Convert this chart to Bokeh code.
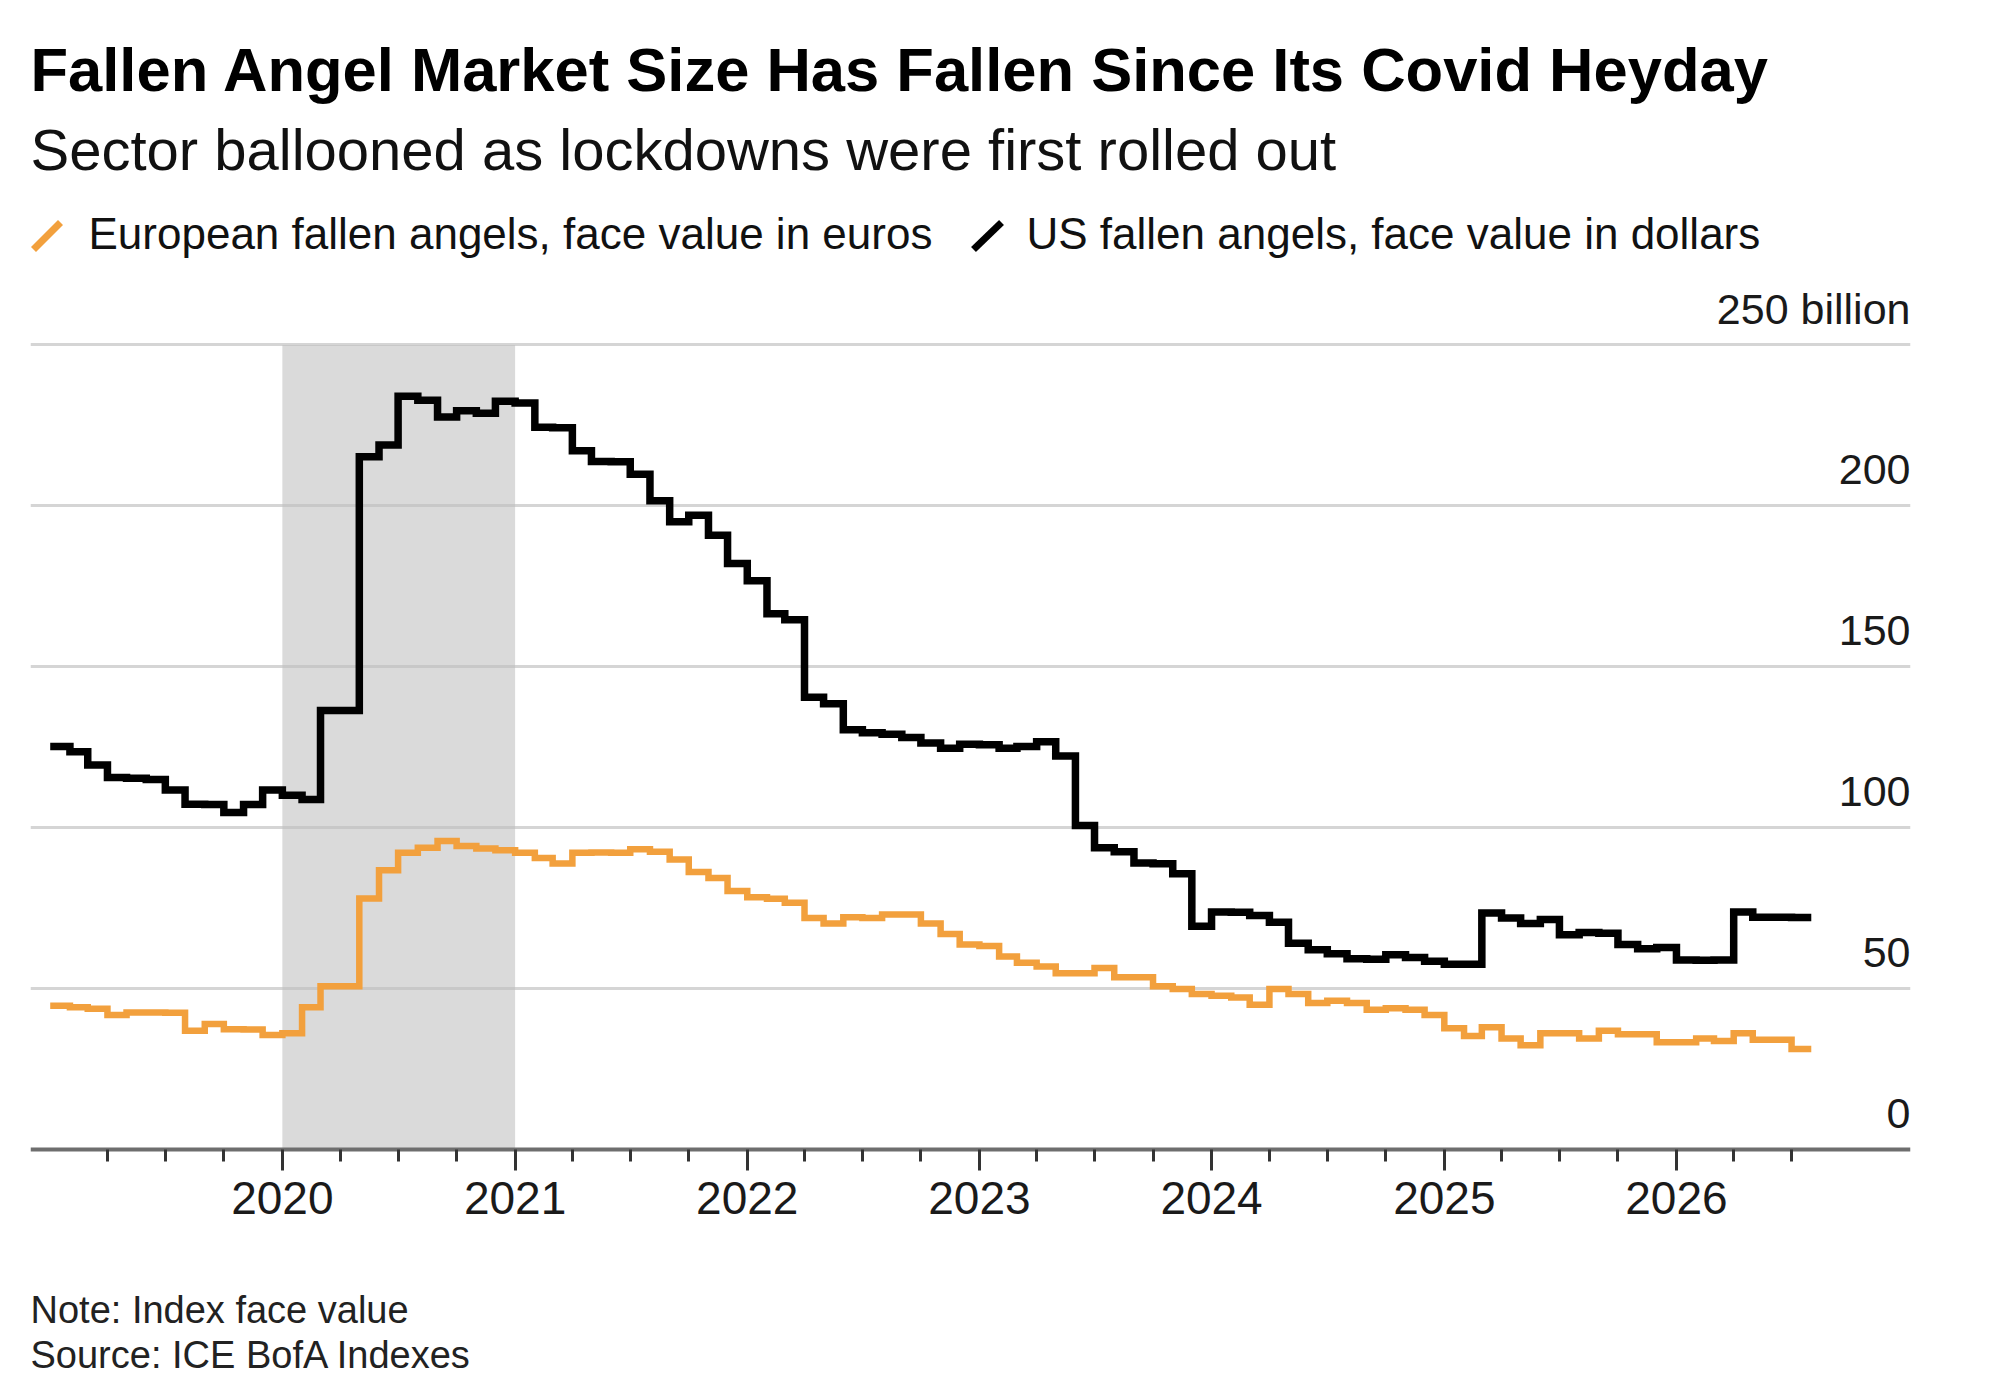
import pandas as pd
from bokeh.plotting import figure
from bokeh.models import (ColumnDataSource, FixedTicker, DatetimeTickFormatter, Grid,
                          BoxAnnotation, Range1d)
from bokeh.core.properties import value
from bokeh.embed import file_html
from bokeh.resources import INLINE

# ---------------- data ----------------
months = pd.date_range("2019-01-01", "2026-08-01", freq="MS")

us_fallen_angels = [
    125.2, 123.6, 119.5, 115.6, 115.4, 115.0, 111.7, 107.3, 107.2, 104.7, 107.2, 111.7,  # 2019
    110.1, 108.8, 136.4, 136.4, 215.3, 218.9, 234.1, 232.8, 227.6, 229.6, 228.8, 232.5,  # 2020
    232.0, 224.4, 224.3, 217.1, 213.8, 213.7, 209.8, 201.6, 195.1, 197.1, 190.9, 182.1,  # 2021
    176.7, 166.5, 164.6, 140.5, 138.5, 130.4, 129.5, 129.0, 128.0, 126.3, 124.7, 125.9,  # 2022
    125.8, 124.7, 125.2, 126.7, 122.3, 100.7, 93.8, 92.5, 89.0, 88.8, 85.7, 69.4,        # 2023
    73.8, 73.7, 72.7, 70.6, 64.1, 62.1, 60.8, 59.3, 59.1, 60.5, 59.7, 58.5,              # 2024
    57.6, 57.6, 73.5, 71.9, 70.2, 71.5, 66.7, 67.4, 67.2, 63.7, 62.4, 62.8,              # 2025
    58.9, 58.8, 58.9, 73.8, 72.2, 72.2, 72.1, 72.1,                                      # 2026
]
eu_fallen_angels = [
    44.7, 44.2, 43.7, 41.8, 42.6, 42.6, 42.5, 36.9, 39.0, 37.4, 37.3, 35.6,   # 2019
    36.1, 44.2, 50.7, 50.7, 78.0, 86.8, 92.2, 93.8, 95.9, 94.3, 93.5, 93.0,   # 2020
    92.2, 90.6, 88.9, 92.2, 92.3, 92.2, 93.3, 92.5, 90.1, 86.2, 84.4, 80.3,   # 2021
    78.4, 77.9, 76.7, 71.9, 70.2, 72.2, 71.9, 73.0, 73.0, 70.2, 67.0, 63.7,   # 2022
    63.2, 60.0, 58.0, 56.9, 54.8, 54.8, 56.4, 53.5, 53.5, 50.7, 49.9, 48.3,   # 2023
    47.8, 47.2, 45.0, 49.9, 48.3, 45.5, 46.2, 45.5, 43.4, 43.9, 43.4, 41.8,   # 2024
    37.7, 35.3, 38.0, 34.5, 32.4, 36.1, 36.1, 34.5, 36.9, 35.8, 35.8, 33.3,   # 2025
    33.3, 34.5, 33.7, 36.1, 34.1, 34.1, 31.2, 31.2,                           # 2026
]

covid_band = ["2020-01-01", "2021-01-01"]
covid_band_top = 250

y_ticks = [0, 50, 100, 150, 200, 250]
y_tick_labels = ["0", "50", "100", "150", "200", "250 billion"]
grid_ticks = [50, 100, 150, 200, 250]
year_ticks = [f"{y}-01-01" for y in range(2020, 2027)]
quarter_ticks = [d for d in pd.date_range("2019-04-01", "2026-07-01", freq="QS").strftime("%Y-%m-%d")
                 if not d.endswith("-01-01")]

x_start, x_end = "2018-12-01", "2027-01-04"
y_top = 357.05                      # value at the top edge of the canvas

title = "Fallen Angel Market Size Has Fallen Since Its Covid Heyday"
subtitle = "Sector ballooned as lockdowns were first rolled out"
legend_labels = ["European fallen angels, face value in euros",
                 "US fallen angels, face value in dollars"]
footer_lines = ["Note: Index face value", "Source: ICE BofA Indexes"]

ORANGE = "#f2a03d"
BLACK = "#000000"
FONT = "Liberation Sans"

W, H = 1984, 1384
BORDER_L, BORDER_R = 30, 74
FRAME_W = W - BORDER_L - BORDER_R      # 1880
PX_PER_UNIT = 1149 / y_top             # vertical scale (px per billion)
y_bottom = y_top - H / PX_PER_UNIT     # frame spans the whole canvas height
PAGE_X0, PAGE_Y0 = 32, 2               # page position of the frame's top-left corner


def ms(d):
    return pd.Timestamp(d).value // 10**6


X0, X1 = ms(x_start), ms(x_end)
MS_PER_PX = (X1 - X0) / FRAME_W


def page_to_data(px, py):
    return X0 + (px - PAGE_X0) * MS_PER_PX, y_top - (py - PAGE_Y0) / PX_PER_UNIT


src = ColumnDataSource(dict(date=months, us=us_fallen_angels, eu=eu_fallen_angels))

p = figure(width=W, height=H, title=None, x_axis_type="datetime", y_axis_location=None,
           x_range=Range1d(X0, X1), y_range=Range1d(y_bottom, y_top),
           output_backend="svg", toolbar_location=None,
           min_border_left=BORDER_L, min_border_right=BORDER_R, min_border_top=0,
           min_border_bottom=0, outline_line_color=None,
           background_fill_color="white", border_fill_color="white")

# remove default grids, then add our own horizontal grid (50..250 only)
p.xgrid.visible = False
p.ygrid.visible = False
g = Grid(dimension=1, ticker=FixedTicker(ticks=grid_ticks), grid_line_color="#bfbfbf",
         grid_line_alpha=0.65, grid_line_width=3)
p.add_layout(g)

band = BoxAnnotation(left=ms(covid_band[0]), right=ms(covid_band[1]), bottom=0, top=covid_band_top,
                     fill_color="#dadada", fill_alpha=1.0, line_color=None, level="image")
p.add_layout(band)

# x axis drawn at value 0 inside the frame
xa = p.xaxis[0]
xa.fixed_location = 0
xa.ticker = FixedTicker(ticks=[ms(d) for d in year_ticks], minor_ticks=[ms(d) for d in quarter_ticks])
xa.formatter = DatetimeTickFormatter(years="%Y", months="%Y", days="%Y", hours="%Y",
                                     minutes="%Y", seconds="%Y", milliseconds="%Y",
                                     microseconds="%Y", minsec="%Y", hourmin="%Y")
xa.axis_line_color = "#6e6e6e"
xa.axis_line_width = 4
xa.major_tick_line_color = "#333333"
xa.major_tick_line_width = 3
xa.major_tick_out = 21
xa.major_tick_in = 0
xa.minor_tick_line_color = "#333333"
xa.minor_tick_line_width = 3
xa.minor_tick_out = 12
xa.minor_tick_in = 0
xa.major_label_text_font = FONT
xa.major_label_text_font_size = "46px"
xa.major_label_text_color = "#1a1a1a"
xa.major_label_standoff = 11

# data lines
p.step(x="date", y="eu", source=src, mode="after", line_color=ORANGE, line_width=6.5,
       line_join="miter")
p.step(x="date", y="us", source=src, mode="after", line_color=BLACK, line_width=7.5,
       line_join="miter")

# value labels sitting above the grid lines, right aligned at the frame edge
p.text(x=[X1] * len(y_ticks), y=y_ticks, text=y_tick_labels, text_align="right",
       text_baseline="middle", x_offset=0, y_offset=-36, text_font=value(FONT),
       text_font_size="43px", text_color="#1a1a1a")


# header / footer texts, anchored at the frame's top-left corner with pixel offsets
def page_text(txt, page_x, page_cy, size, bold=False, color="#111111"):
    p.text(x=[X0], y=[y_top], text=[txt], x_offset=page_x - PAGE_X0, y_offset=page_cy - PAGE_Y0,
           text_align="left", text_baseline="middle", text_font=value(FONT),
           text_font_size=f"{size}px", text_font_style="bold" if bold else "normal",
           text_color=color)


page_text(title, 32, 70.5, 61.5, bold=True, color="#000000")
page_text(subtitle, 32, 151, 58)
page_text(legend_labels[0], 90, 235, 44)
page_text(legend_labels[1], 1028, 235, 44)
page_text(footer_lines[0], 32, 1311, 38, color="#222222")
page_text(footer_lines[1], 32, 1356, 38, color="#222222")

# legend slashes
s0 = [page_to_data(35, 251), page_to_data(975, 251)]
s1 = [page_to_data(62, 224), page_to_data(1003, 224)]
p.segment(x0=[a[0] for a in s0], y0=[a[1] for a in s0], x1=[b[0] for b in s1],
          y1=[b[1] for b in s1], line_color=[ORANGE, BLACK], line_width=7, line_cap="butt")

open("out.html", "w").write(file_html(p, INLINE))
